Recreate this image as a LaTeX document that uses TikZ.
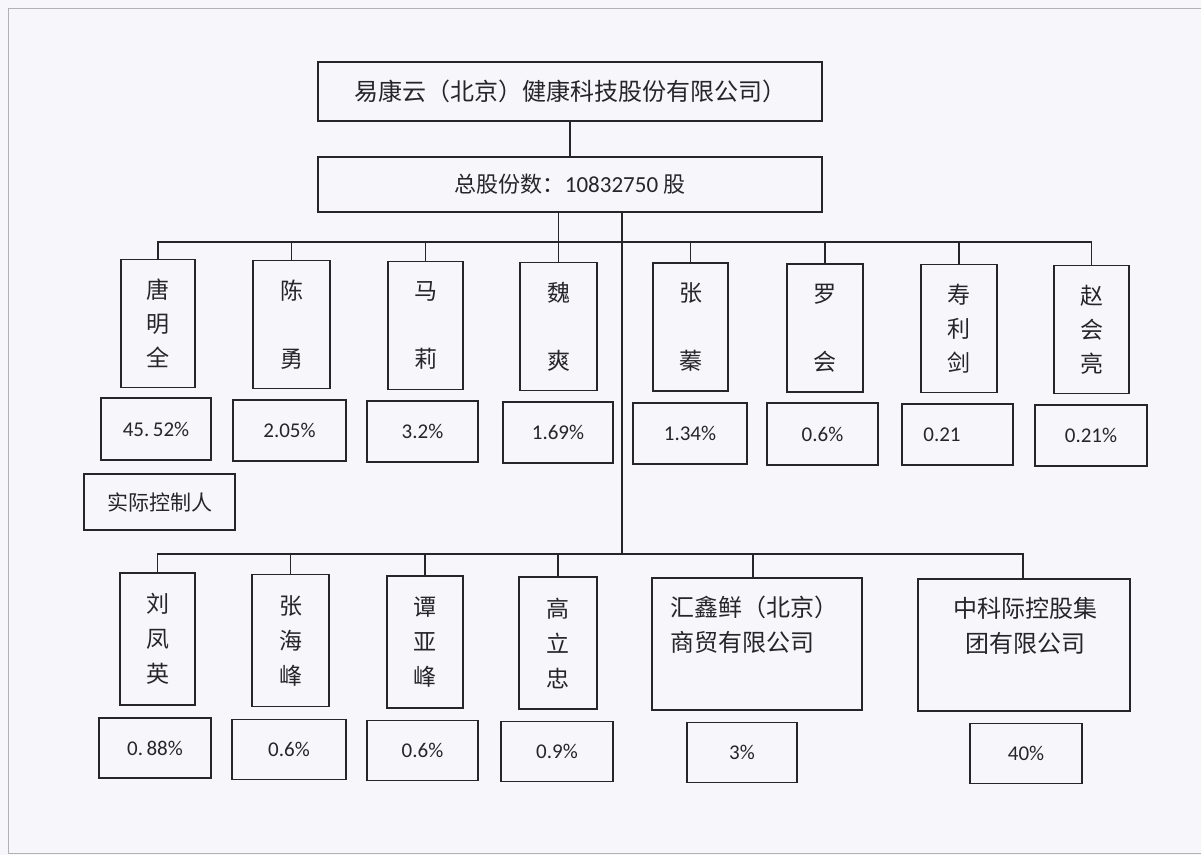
\documentclass[tikz,border=0pt]{standalone}
\usepackage{fontspec}
\setmainfont{Carlito}
\newfontfamily\cjk{Noto Sans CJK SC}
\newfontfamily\carl{Carlito}
\definecolor{bg}{RGB}{247,247,251}
\definecolor{ink}{RGB}{38,38,42}
\tikzset{
  box/.style={draw=ink, line width=1.6pt, fill=bg, inner sep=0pt, text=ink},
  namebox/.style={box, minimum width=76pt, minimum height=128pt, align=center,
    font=\cjk\fontsize{23}{34}\selectfont},
  namebox2/.style={namebox, minimum height=132pt, font=\cjk\fontsize{23}{35}\selectfont},
  pct/.style={box, minimum width=111pt, minimum height=61pt, font=\carl\fontsize{21}{24}\selectfont},
  link/.style={draw=ink, line width=1.6pt},
  cotext/.style={inner sep=0pt, text=ink, font=\cjk\fontsize{24}{35}\selectfont}
}
\begin{document}
\begin{tikzpicture}[x=1pt,y=-1pt]
\fill[bg] (0,0) rectangle (1201,855);
\useasboundingbox (0,0) rectangle (1201,855);
\draw[gray!60, line width=1pt] (1201,8) -- (8,8) -- (8,853) -- (1201,853);

% top
\node[box, minimum width=504pt, minimum height=59pt, font=\cjk\fontsize{24}{28}\selectfont] (company) at (570,91.5) {易康云（北京）健康科技股份有限公司）};
\node[box, minimum width=504pt, minimum height=55pt, font=\cjk\fontsize{22}{26}\selectfont] (total) at (570,184.5) {总股份数：{\carl\fontsize{23}{26}\selectfont 10832750} 股};

% upper names
\node[namebox, minimum width=74pt] (tang) at (158,323.5) {唐\\明\\全};
\node[namebox, minimum width=77pt] (chen) at (291.5,324.5) {陈\\[34pt]勇};
\node[namebox, minimum width=75pt] (ma) at (425.5,325.5) {马\\[34pt]莉};
\node[namebox, minimum width=77pt] (wei) at (558.5,326.5) {魏\\[34pt]爽};
\node[namebox, minimum width=75pt] (zzh) at (690.5,327) {张\\[34pt]蓁};
\node[namebox, minimum width=76pt] (luo) at (825,328) {罗\\[34pt]会};
\node[namebox, minimum width=76pt] (shou) at (959,328.5) {寿\\利\\剑};
\node[namebox, minimum width=75pt] (zhao) at (1091.5,329.5) {赵\\会\\亮};

% upper percentages
\node[pct, minimum width=110pt, minimum height=62pt] (p1) at (156,429) {45.\,52\%};
\node[pct, minimum width=113pt] (p2) at (289.5,430.5) {2.05\%};
\node[pct] (p3) at (422.5,431.5) {3.2\%};
\node[pct, minimum width=110pt] (p4) at (558,432.5) {1.69\%};
\node[pct, minimum width=114pt] (p5) at (690,433.5) {1.34\%};
\node[pct, minimum height=62pt] (p6) at (822.5,434) {0.6\%};
\node[pct] (p7) at (957.5,434.5) {0.21\kern31pt\relax};
\node[pct, minimum width=112pt] (p8) at (1091,435.5) {0.21\%};

\node[box, minimum width=151pt, minimum height=56pt, font=\cjk\fontsize{21}{24}\selectfont] (ctrl) at (159.5,502) {实际控制人};

% lower names
\node[namebox2, minimum width=75pt] (liu) at (157.5,639) {刘\\凤\\英};
\node[namebox2, minimum width=77pt] (zhf) at (290.5,640.5) {张\\海\\峰};
\node[namebox2, minimum width=76pt] (tan) at (425,642) {谭\\亚\\峰};
\node[namebox2, minimum width=78pt] (gao) at (558,643) {高\\立\\忠};
\node[box, minimum width=210pt, minimum height=132pt] (huixin) at (757,644) {};
\node[box, minimum width=212pt, minimum height=132pt] (zhongke) at (1024,645) {};
\node[cotext, anchor=west, align=left] (huixinT) at ([xshift=19pt,yshift=19.5pt]huixin.west) {汇鑫鲜（北京）\\商贸有限公司};
\node[cotext, align=center] (zhongkeT) at ([xshift=1pt,yshift=19.5pt]zhongke.center) {中科际控股集\\团有限公司};

% lower percentages
\node[pct, minimum width=112pt, minimum height=60pt] (q1) at (155,748) {0.\,88\%};
\node[pct, minimum width=114pt, minimum height=60pt] (q2) at (289,749.5) {0.6\%};
\node[pct, minimum height=60pt] (q3) at (422.5,750.5) {0.6\%};
\node[pct, minimum width=112pt, minimum height=60pt] (q4) at (557,751.5) {0.9\%};
\node[pct, minimum width=110pt, minimum height=60pt] (q5) at (742,752.5) {3\%};
\node[pct, minimum width=112pt, minimum height=60pt] (q6) at (1026,753.5) {40\%};

% connectors
\coordinate (ub) at (0,242);
\coordinate (lb) at (0,554);
\draw[link] (company.south) -- (total.north);
\draw[link] (total.south -| wei.north) -- (wei.north);
\draw[link] (tang.north) -- (tang.north |- ub) -- (zhao.north |- ub) -- (zhao.north);
\foreach \n in {chen,ma,zzh,luo,shou}
  \draw[link] (\n.north |- ub) -- (\n.north);
\draw[link] ([xshift=52pt]total.south) coordinate (t0) -- (t0 |- lb);
\draw[link] (liu.north) -- (liu.north |- lb) -- ([xshift=-1pt]zhongke.north |- lb) -- ([xshift=-1pt]zhongke.north);
\foreach \n in {zhf,tan,gao}
  \draw[link] (\n.north |- lb) -- (\n.north);
\draw[link] ([xshift=-4pt]huixin.north |- lb) -- ([xshift=-4pt]huixin.north);
\end{tikzpicture}
\end{document}
